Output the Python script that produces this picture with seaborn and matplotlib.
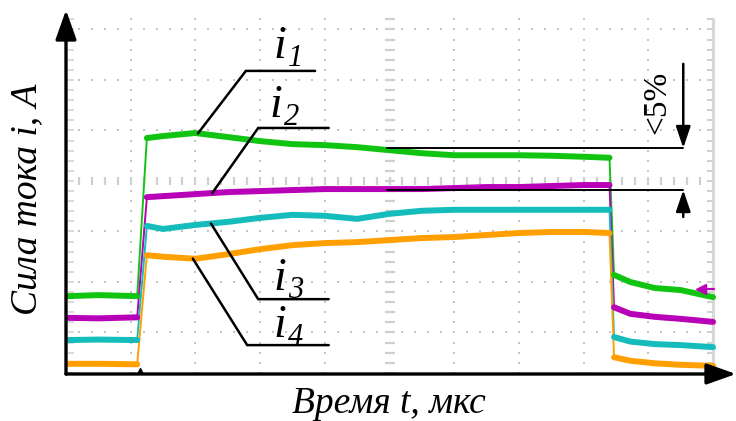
import numpy as np
import pandas as pd
import matplotlib
matplotlib.use("Agg")
import matplotlib.pyplot as plt
import seaborn as sns

# --- data (time and current in oscilloscope divisions) ---
T_BEFORE = [0.03, 0.5, 1.10]
T_PULSE = [1.25, 1.5, 2.0, 2.5, 3.0, 3.5, 4.0, 4.5, 5.0, 5.5, 6.0, 6.5, 7.0, 7.5, 8.0, 8.40]
T_AFTER = [8.47, 8.72, 9.1, 9.5, 10.0]

I1_BEFORE = [-2.28, -2.26, -2.28]
I1_PULSE = [0.85, 0.89, 0.95, 0.87, 0.79, 0.73, 0.71, 0.67, 0.61, 0.55, 0.51, 0.51, 0.51, 0.50, 0.48, 0.46]
I1_AFTER = [-1.86, -2.00, -2.12, -2.16, -2.30]

I2_BEFORE = [-2.71, -2.72, -2.70]
I2_PULSE = [-0.32, -0.30, -0.26, -0.22, -0.20, -0.18, -0.16, -0.16, -0.16, -0.16, -0.14, -0.12, -0.12, -0.10, -0.08, -0.08]
I2_AFTER = [-2.50, -2.63, -2.69, -2.73, -2.79]

I3_BEFORE = [-3.15, -3.14, -3.15]
I3_PULSE = [-0.89, -0.95, -0.87, -0.81, -0.73, -0.67, -0.69, -0.75, -0.65, -0.59, -0.57, -0.57, -0.57, -0.57, -0.57, -0.57]
I3_AFTER = [-3.09, -3.18, -3.23, -3.25, -3.29]

I4_BEFORE = [-3.62, -3.62, -3.63]
I4_PULSE = [-1.47, -1.50, -1.54, -1.45, -1.35, -1.27, -1.23, -1.21, -1.17, -1.13, -1.11, -1.07, -1.03, -1.01, -1.01, -1.03]
I4_AFTER = [-3.49, -3.56, -3.61, -3.64, -3.66]

TRACES = ["i1", "i2", "i3", "i4"]
COLORS = {"i1": "#12c412", "i2": "#b800b8", "i3": "#14bcbc", "i4": "#ffa000"}
LABEL_TIME = {"i1": 2.04, "i2": 2.26, "i3": 2.24, "i4": 1.96}

series = {
    "i1": (I1_BEFORE, I1_PULSE, I1_AFTER),
    "i2": (I2_BEFORE, I2_PULSE, I2_AFTER),
    "i3": (I3_BEFORE, I3_PULSE, I3_AFTER),
    "i4": (I4_BEFORE, I4_PULSE, I4_AFTER),
}

rows = []
for name in TRACES:
    for seg, (tt, vv) in enumerate(zip((T_BEFORE, T_PULSE, T_AFTER), series[name])):
        for t, v in zip(tt, vv):
            rows.append({"trace": name, "seg": f"{name}_{seg}", "t": t, "i": v})
df = pd.DataFrame(rows)

# --- style ---
sns.set_style("white")
plt.rcParams['font.family'] = ['Liberation Serif', 'DejaVu Serif']
plt.rcParams['text.color'] = 'black'

fig = plt.figure(figsize=(7.36, 4.21), dpi=100)
ax = fig.add_axes([66 / 736, 47 / 421, 670 / 736, 364 / 421])
ax.set_xlim(0, 10.355)
ax.set_ylim(-3.822, 3.386)
for s in ax.spines.values():
    s.set_visible(False)
ax.set_xticks([])
ax.set_yticks([])

# --- oscilloscope grid ---
grid_c = "#c4c4c4"
gx = np.arange(0.2, 10.0, 0.2)
for k in range(-3, 4):
    ax.scatter(gx, np.full_like(gx, k), s=2.5, marker="s", color=grid_c, lw=0, zorder=1)
gy = np.arange(-3.8, 3.25, 0.2)
for k in range(1, 10):
    ax.scatter(np.full_like(gy, k), gy, s=2.5, marker="s", color=grid_c, lw=0, zorder=1)
ax.plot(np.full_like(gy, 5), gy, ls="none", marker="_", ms=7, mew=1.6, color="#cfcfcf", zorder=1)
ax.plot(gx, np.zeros_like(gx), ls="none", marker="|", ms=6, mew=1.6, color="#cfcfcf", zorder=1)
ax.plot([10, 10], [-3.82, 3.21], color="#d9d9d9", lw=2.2, zorder=1)
ax.plot(np.full_like(gy, 9.95), gy, ls="none", marker="_", ms=5, mew=1.4, color="#cfcfcf", zorder=1)
ax.plot(np.full_like(gy, 0.07), gy, ls="none", marker="_", ms=4, mew=1.2, color="#d4d4d4", zorder=1)

# --- traces ---
sns.lineplot(data=df, x="t", y="i", hue="trace", palette=COLORS, units="trace",
             estimator=None, sort=False, lw=1.4, legend=False, ax=ax, zorder=3)
sns.lineplot(data=df, x="t", y="i", hue="trace", palette=COLORS, units="seg",
             estimator=None, sort=False, lw=4.3, legend=False, ax=ax, zorder=3)
ax.set_xlabel("")
ax.set_ylabel("")

# scope markers
ax.plot([9.78, 10.02], [-2.14, -2.14], color=COLORS["i2"], lw=1.6, zorder=4)
ax.plot([9.82], [-2.14], marker="<", ms=7, color=COLORS["i2"], zorder=4)
ax.plot([1.14], [-3.76], marker="^", ms=5, color="black", zorder=4)

# --- axis arrows ---
arrow = dict(arrowstyle="-|>,head_length=0.9,head_width=0.32", lw=2.4, color="black",
             shrinkA=0, shrinkB=0, mutation_scale=20)
ax.annotate("", xy=(0, 1), xytext=(0, 0), xycoords="axes fraction", arrowprops=arrow, zorder=5)
ax.annotate("", xy=(1, 0), xytext=(0, 0), xycoords="axes fraction", arrowprops=arrow, zorder=5)

# --- trace labels with leaders ---
elbows = {"i1": (2.78, 2.18, 3.85), "i2": (2.97, 1.05, 4.06),
          "i3": (2.97, -2.34, 4.06), "i4": (2.80, -3.25, 4.06)}
label_pos = {"i1": (3.30, 2.44), "i2": (3.24, 1.27), "i3": (3.30, -2.16), "i4": (3.30, -3.09)}
for name in TRACES:
    full_t = T_BEFORE + T_PULSE + T_AFTER
    full_i = list(series[name][0]) + list(series[name][1]) + list(series[name][2])
    t0 = LABEL_TIME[name]
    y0 = np.interp(t0, full_t, full_i)
    ex, ey, ex2 = elbows[name]
    ax.plot([t0, ex, ex2], [y0, ey, ey], color="black", lw=1.8, zorder=4,
            solid_joinstyle="miter")
    lx, ly = label_pos[name]
    ax.text(lx, ly, "i", fontsize=33, style="italic", ha="center", va="baseline", zorder=5)
    ax.annotate(name[1], xy=(lx, ly), xytext=(6, -6), textcoords="offset points",
                fontsize=22, style="italic", ha="left", va="baseline", zorder=5)

# --- <5% dimension ---
y_hi, y_lo, x_dim = 0.653, -0.178, 9.54
ax.plot([4.96, x_dim], [y_hi, y_hi], color="black", lw=1.4, zorder=4)
ax.plot([4.96, x_dim], [y_lo, y_lo], color="black", lw=1.4, zorder=4)
dim_arrow = dict(arrowstyle="-|>,head_length=0.65,head_width=0.22", lw=1.8, color="black",
                 shrinkA=0, shrinkB=0, mutation_scale=20)
ax.annotate("", xy=(x_dim, y_hi), xytext=(x_dim, 2.32), arrowprops=dim_arrow, zorder=5)
ax.annotate("", xy=(x_dim, y_lo), xytext=(x_dim, -0.713), arrowprops=dim_arrow, zorder=5)
ax.text(9.13, 1.56, "<5%", rotation=90, fontsize=24, ha="center", va="center", zorder=5)

# --- axis labels ---
fig.text(389 / 736, 8 / 421, "Время t, мкс", fontsize=27, style="italic",
         ha="center", va="baseline")
fig.text(27 / 736, 222 / 421, "Сила тока i, А", fontsize=27, style="italic",
         ha="center", va="center", rotation=90)

fig.savefig("out.png", dpi=100)
